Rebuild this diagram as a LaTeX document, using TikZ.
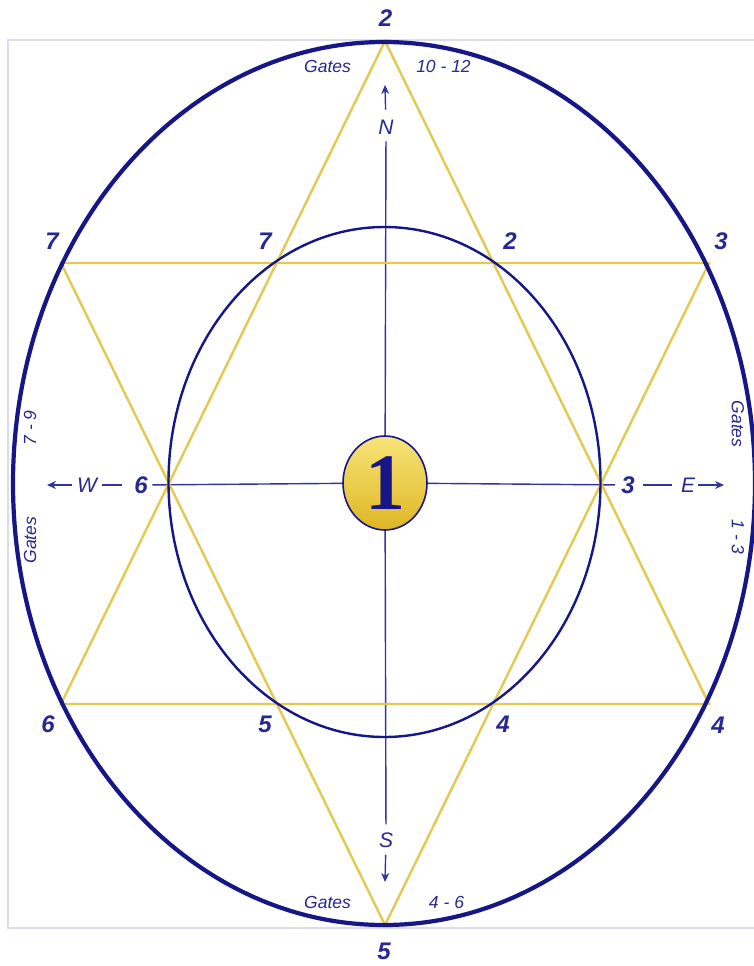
\documentclass[tikz,border=0pt]{standalone}
\usepackage{fontspec}
\setmainfont{Liberation Sans}
\newfontfamily\badgefont{Liberation Serif}
\usetikzlibrary{shapes.geometric,arrows.meta}
\definecolor{navy}{RGB}{22,22,135}
\definecolor{inkblue}{RGB}{40,40,145}
\definecolor{axisblue}{RGB}{50,50,160}
\definecolor{stargold}{RGB}{226,202,80}
\definecolor{framelav}{RGB}{218,218,240}
\definecolor{badgetop}{RGB}{248,228,120}
\definecolor{badgebot}{RGB}{222,182,36}
\begin{document}
\begin{tikzpicture}[x=1pt,y=-1pt,
  num/.style={inner sep=0pt, text=inkblue, font=\fontsize{24}{26}\selectfont\bfseries\itshape},
  gate/.style={inner sep=0pt, text=inkblue, font=\fontsize{17.5}{19}\selectfont\itshape},
  dir/.style={inner sep=0pt, text=inkblue, font=\fontsize{21}{23}\selectfont\itshape},
  axis/.style={draw=axisblue, line width=1.4pt},
  arr/.style={axis, -{Stealth[length=9pt,width=8pt]}},
  starline/.style={draw=stargold, line width=2.4pt, line join=miter},
  badgestyle/.style={ellipse, draw=navy, line width=1.6pt, top color=badgetop, bottom color=badgebot,
    minimum width=84pt, minimum height=94pt, inner sep=0pt, text=navy,
    font=\badgefont\fontsize{80}{82}\selectfont\bfseries},
]
\useasboundingbox (0,0) rectangle (754,966);
\fill[white] (0,0) rectangle (754,966);
\draw[framelav, line width=1.5pt] (760,40) -- (8,40) -- (8,928) -- (760,928);

% star vertices
\coordinate (T) at (385,41);
\coordinate (B) at (385,925);
\coordinate (UL) at (61,263);
\coordinate (UR) at (709,263);
\coordinate (LL) at (61,704);
\coordinate (LR) at (709,704);
\coordinate (Ntip) at (385,85);
\coordinate (Stip) at (385,882);
\coordinate (Wtip) at (47,485);
\coordinate (Etip) at (724,485);

% labels
\node[num] (top2) at (385.5,18) {2};
\node[gate] (gatesT) at (327.5,66) {Gates};
\node[gate] (rangeT) at (443.5,66) {10 - 12};
\node[dir] (N) at (386,127) {N};
\node[num] (o7) at (52,241) {7};
\node[num] (i7) at (265,241) {7};
\node[num] (i2) at (510,241) {2};
\node[num] (o3) at (721,241) {3};
\node[dir] (W) at (87,485) {W};
\node[num] (i6) at (141,485) {6};
\node[num] (i3) at (628,485) {3};
\node[dir] (E) at (688,485) {E};
\node[num] (o6) at (48,724) {6};
\node[num] (i5) at (265,724) {5};
\node[num] (i4) at (503,724) {4};
\node[num] (o4) at (718,725) {4};
\node[dir] (S) at (386,840) {S};
\node[gate] (gatesB) at (327.5,902) {Gates};
\node[gate] (rangeB) at (446.5,902) {4 - 6};
\node[num] (bot5) at (384,951) {5};
\node[gate, rotate=90] (rangeW) at (30,428) {7 - 9};
\node[gate, rotate=90] (gatesW) at (30,540) {Gates};
\node[gate, rotate=-90] (gatesE) at (738,424) {Gates};
\node[gate, rotate=-90] (rangeE) at (738,537) {1 - 3};

\node[badgestyle] (badge) at (385,483) {1};

% axes
\draw[arr, shorten <=10pt] (N) -- (Ntip);
\draw[axis, shorten <=7pt] (N) -- (badge);
\draw[axis, shorten >=8pt] (badge) -- (S);
\draw[arr, shorten <=7pt] (S) -- (Stip);
\draw[arr, shorten <=5pt] (W) -- (Wtip);
\draw[axis, shorten <=5pt, shorten >=12pt] (W) -- (i6);
\draw[axis, shorten <=4.5pt] (i6) -- (badge);
\draw[axis, shorten >=6pt] (badge) -- (i3);
\draw[axis, shorten <=8pt, shorten >=9pt] (i3) -- (E);
\draw[arr, shorten <=3pt] (E) -- (Etip);

% star
\draw[starline] (T) -- (LL) -- (LR) -- cycle;
\draw[starline] (B) -- (UL) -- (UR) -- cycle;

% ellipses
\draw[navy, line width=2.4pt] (384.5,482) ellipse [x radius=216, y radius=255];
\draw[navy, line width=4.2pt] (384,483.5) ellipse [x radius=371, y radius=441.5];
\end{tikzpicture}
\end{document}
